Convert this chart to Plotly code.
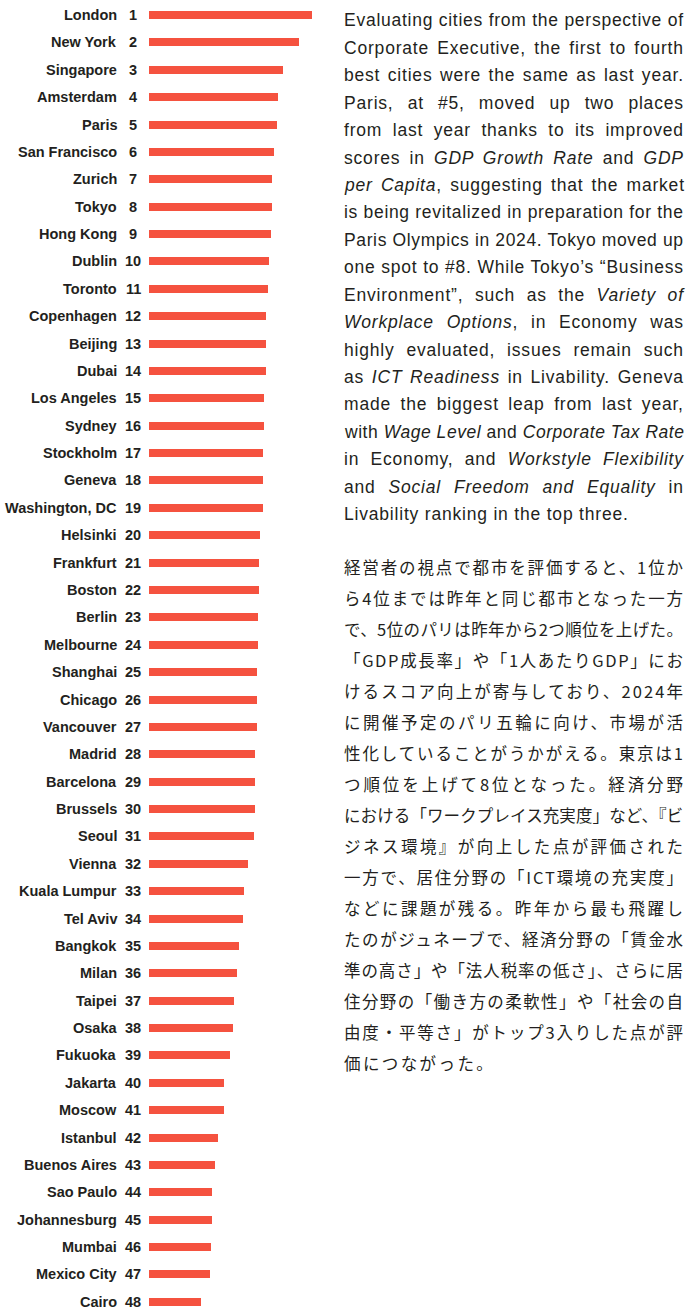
import json
import plotly.graph_objects as go

cities = ["London", "New York", "Singapore", "Amsterdam", "Paris", "San Francisco", "Zurich",
          "Tokyo", "Hong Kong", "Dublin", "Toronto", "Copenhagen", "Beijing", "Dubai",
          "Los Angeles", "Sydney", "Stockholm", "Geneva", "Washington, DC", "Helsinki",
          "Frankfurt", "Boston", "Berlin", "Melbourne", "Shanghai", "Chicago", "Vancouver",
          "Madrid", "Barcelona", "Brussels", "Seoul", "Vienna", "Kuala Lumpur", "Tel Aviv",
          "Bangkok", "Milan", "Taipei", "Osaka", "Fukuoka", "Jakarta", "Moscow", "Istanbul",
          "Buenos Aires", "Sao Paulo", "Johannesburg", "Mumbai", "Mexico City", "Cairo"]
ranks = list(range(1, 49))
scores = [163, 150, 134, 129, 128, 125, 123, 123, 122, 120, 119, 117, 117, 117, 115, 115,
          114, 114, 114, 111, 110, 110, 109, 109, 108, 108, 108, 106, 106, 106, 105, 99,
          95, 94, 90, 88, 85, 84, 81, 75, 75, 69, 66, 63, 63, 62, 61, 52]

text_en = [
    "Evaluating cities from the perspective of",
    "Corporate Executive, the first to fourth",
    "best cities were the same as last year.",
    "Paris, at #5, moved up two places",
    "from last year thanks to its improved",
    "scores in <i>GDP Growth Rate</i> and <i>GDP</i>",
    "<i>per Capita</i>, suggesting that the market",
    "is being revitalized in preparation for the",
    "Paris Olympics in 2024. Tokyo moved up",
    "one spot to #8. While Tokyo’s “Business",
    "Environment”, such as the <i>Variety of</i>",
    "<i>Workplace Options</i>, in Economy was",
    "highly evaluated, issues remain such",
    "as <i>ICT Readiness</i> in Livability. Geneva",
    "made the biggest leap from last year,",
    "with <i>Wage Level</i> and <i>Corporate Tax Rate</i>",
    "in Economy, and <i>Workstyle Flexibility</i>",
    "and <i>Social Freedom and Equality</i> in",
    "Livability ranking in the top three.",
]
text_ja = [
    "経営者の視点で都市を評価すると、1位か",
    "ら4位までは昨年と同じ都市となった一方",
    "で、5位のパリは昨年から2つ順位を上げた。",
    "「GDP成長率」や「1人あたりGDP」にお",
    "けるスコア向上が寄与しており、2024年",
    "に開催予定のパリ五輪に向け、市場が活",
    "性化していることがうかがえる。東京は1",
    "つ順位を上げて8位となった。経済分野",
    "における「ワークプレイス充実度」など、『ビ",
    "ジネス環境』が向上した点が評価された",
    "一方で、居住分野の「ICT環境の充実度」",
    "などに課題が残る。昨年から最も飛躍し",
    "たのがジュネーブで、経済分野の「賃金水",
    "準の高さ」や「法人税率の低さ」、さらに居",
    "住分野の「働き方の柔軟性」や「社会の自",
    "由度・平等さ」がトップ3入りした点が評",
    "価につながった。",
]

W, H = 686, 1310
BAR_LEFT = 149
ROW0 = 15.0
PITCH = 27.38
TXT = "#231f20"
BAR = "#f5523f"

fig = go.Figure()
fig.add_trace(go.Bar(
    x=scores, y=ranks, orientation="h", width=0.292,
    marker=dict(color=BAR, line=dict(width=0)),
    hoverinfo="skip", showlegend=False,
))

ann = []
for c, r in zip(cities, ranks):
    ann.append(dict(x=119 / W, xref="paper", y=r, yref="y", text=c, showarrow=False,
                    xanchor="right", yanchor="middle",
                    font=dict(family="Liberation Sans", size=14.5, color=TXT, weight=700)))
    ann.append(dict(x=133 / W, xref="paper", y=r, yref="y", text=str(r), showarrow=False,
                    xanchor="center", yanchor="middle",
                    font=dict(family="Liberation Sans", size=14.5, color=TXT, weight=700)))

spec = {}
TX = 343
TW = 339
for k, line in enumerate(text_en):
    py = 20.3 + 27.44 * k
    spec[len(ann)] = ["en" if k < len(text_en) - 1 else "en-last", TW, 0.8]
    ann.append(dict(x=TX / W, xref="paper", y=1 - py / H, yref="paper", text=line,
                    showarrow=False, xanchor="left", yanchor="middle", align="left",
                    borderpad=0, font=dict(family="Liberation Sans", size=17.5, color=TXT)))
for k, line in enumerate(text_ja):
    py = 567 + 31.0 * k
    spec[len(ann)] = ["ja" if k < len(text_ja) - 1 else "ja-last", TW, 2.4]
    ann.append(dict(x=TX / W, xref="paper", y=1 - py / H, yref="paper", text=line,
                    showarrow=False, xanchor="left", yanchor="middle", align="left",
                    borderpad=0, font=dict(family="Noto Sans CJK JP", size=16.5, color=TXT)))

fig.update_layout(
    width=W, height=H,
    margin=dict(l=0, r=0, t=0, b=0),
    paper_bgcolor="white", plot_bgcolor="white",
    xaxis=dict(domain=[BAR_LEFT / W, 1], range=[0, W - BAR_LEFT], visible=False,
               fixedrange=True),
    yaxis=dict(range=[1 + (H - ROW0) / PITCH, 1 - ROW0 / PITCH], visible=False,
               fixedrange=True),
    annotations=ann,
    bargap=0,
)

js = """
document.body.style.margin = '0';
var gd = document.getElementById('{plot_id}');
var SPEC = %s;
function justify() {
  var groups = gd.querySelectorAll('g.annotation');
  groups.forEach(function (g) {
    var idx = g.getAttribute('data-index');
    var s = SPEC[idx];
    if (!s) return;
    var t = g.querySelector('text.annotation-text');
    if (!t) return;
    var mode = s[0], T = s[1], L0 = s[2];
    t.removeAttribute('transform');
    t.style.letterSpacing = '0px';
    t.style.wordSpacing = '0px';
    var x0 = t.getBBox().x;
    var txt = t.textContent;
    var n = txt.length;
    var spaces = (txt.match(/[ \\u00a0]/g) || []).length;
    if (mode === 'ja') {
      var w0 = t.getComputedTextLength();
      t.style.letterSpacing = ((T - w0) / (n - 1)) + 'px';
    } else if (mode === 'ja-last') {
      t.style.letterSpacing = L0 + 'px';
    } else if (mode === 'en') {
      t.style.letterSpacing = L0 + 'px';
      var w = t.getComputedTextLength() - L0;
      var extra = T - w;
      if (extra >= 0 && spaces > 0) {
        t.style.wordSpacing = (extra / spaces) + 'px';
      } else {
        t.style.letterSpacing = (L0 + extra / (n - 1)) + 'px';
      }
    } else {
      t.style.letterSpacing = L0 + 'px';
    }
    var x1 = t.getBBox().x;
    if (Math.abs(x1 - x0) > 0.3) {
      t.setAttribute('transform', 'translate(' + (x0 - x1) + ',0)');
    }
  });
}
justify();
gd.on('plotly_afterplot', justify);
""" % json.dumps(spec)

fig.write_html("out.html", post_script=js, config={"displayModeBar": False})
